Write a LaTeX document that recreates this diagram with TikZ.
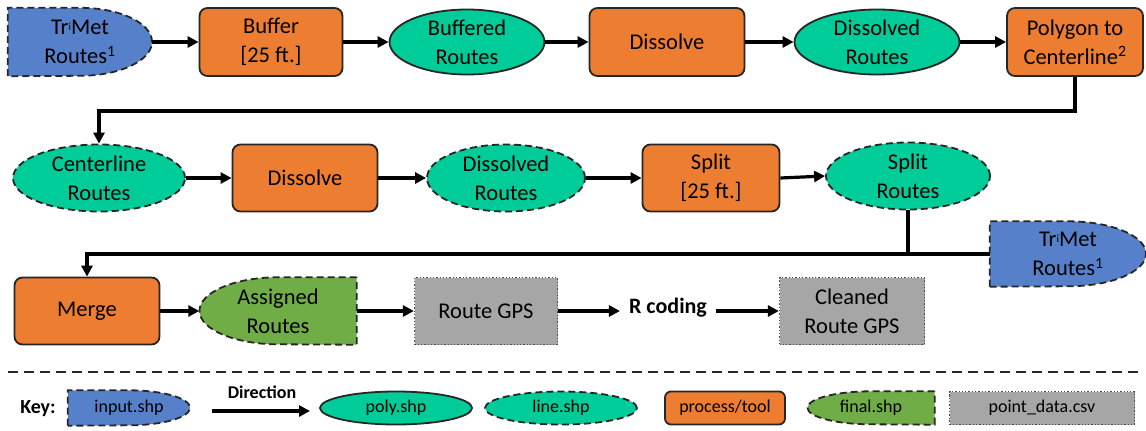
\documentclass[tikz,border=0pt]{standalone}
\usepackage{fontspec}
\setmainfont{Carlito}
\usetikzlibrary{shapes.geometric,arrows.meta,backgrounds,calc}

\definecolor{inblue}{RGB}{86,128,201}
\definecolor{procorange}{RGB}{237,125,49}
\definecolor{polyteal}{RGB}{0,204,153}
\definecolor{finalgreen}{RGB}{112,173,71}
\definecolor{ptgray}{RGB}{166,166,166}

\newcommand\trimet{Tr{\fontsize{11}{11}\selectfont\raisebox{0.7ex}{i}}Met}

\tikzset{
  x=1pt, y=1pt,
  lbl/.style={font=\fontsize{22.5}{29}\selectfont, align=center, text=black, inner sep=0pt},
  keylbl/.style={font=\fontsize{18}{20}\selectfont, align=center, text=black, inner sep=0pt},
  edge/.style={line width=1.8pt, draw=black!85},
  dashedge/.style={line width=1.8pt, draw=black!85, dash pattern=on 7pt off 4pt},
  procbox/.style={rectangle, rounded corners=8pt, fill=procorange, edge},
  polyell/.style={ellipse, fill=polyteal, edge},
  lineell/.style={ellipse, fill=polyteal, dashedge},
  flatbox/.style={rectangle, draw=none},
  ptbox/.style={rectangle, fill=ptgray, draw=black!70, line width=1.3pt, dotted},
  arr/.style={line width=3.2pt, draw=black, -{Triangle[length=11pt,width=11pt]}},
  plain/.style={line width=3.2pt, draw=black},
  sep/.style={line width=2.2pt, draw=black!85, dash pattern=on 10pt off 6pt},
}

\begin{document}
\begin{tikzpicture}
\useasboundingbox (0,0) rectangle (1146,-431);

% ---------- row 1 ----------
\node[flatbox, lbl, minimum width=144, minimum height=68] (tm1) at (80,-42) {\trimet\\Routes\textsuperscript{1}};
\node[procbox, lbl, minimum width=143, minimum height=68] (buf) at (271,-42) {Buffer\\{[}25 ft.{]}};
\node[polyell, lbl, minimum width=155, minimum height=65] (bufr) at (467,-42) {Buffered\\Routes};
\node[procbox, lbl, minimum width=155, minimum height=68] (dis1) at (667,-42) {Dissolve};
\node[polyell, lbl, minimum width=165, minimum height=65] (disr1) at (877,-42) {Dissolved\\Routes};
\node[procbox, lbl, minimum width=136, minimum height=68] (p2c) at (1075,-42) {Polygon to\\Centerline\textsuperscript{2}};

% ---------- row 2 ----------
\node[lineell, lbl, minimum width=172, minimum height=67] (clr) at (99,-178) {Centerline\\Routes};
\node[procbox, lbl, minimum width=145, minimum height=67] (dis2) at (305,-178) {Dissolve};
\node[lineell, lbl, minimum width=158, minimum height=67] (disr2) at (506,-178) {Dissolved\\Routes};
\node[procbox, lbl, minimum width=137, minimum height=67] (split) at (711,-178) {Split\\{[}25 ft.{]}};
\node[lineell, lbl, minimum width=164, minimum height=67] (splr) at (908,-176) {Split\\Routes};
\node[flatbox, lbl, minimum width=156, minimum height=65] (tm2) at (1068,-254) {\trimet\\Routes\textsuperscript{1}};

% ---------- row 3 ----------
\node[procbox, lbl, minimum width=145, minimum height=67] (merge) at (87,-311) {Merge};
\node[flatbox, lbl, minimum width=157, minimum height=67] (asg) at (278,-311) {Assigned\\Routes};
\node[ptbox, lbl, minimum width=143, minimum height=67] (rgps) at (486,-311) {Route GPS};
\node[lbl, font=\fontsize{22}{26}\selectfont\bfseries, inner xsep=9pt] (rcod) at (668,-308) {R coding};
\node[ptbox, lbl, minimum width=145, minimum height=67] (crgps) at (852,-311) {Cleaned\\Route GPS};

% ---------- key ----------
\node[keylbl, font=\fontsize{20}{22}\selectfont\bfseries] (key) at (38,-409) {Key:};
\node[flatbox, keylbl, minimum width=122, minimum height=35] (kin) at (129,-408) {input.shp};
\node[keylbl, font=\fontsize{18}{20}\selectfont\bfseries] (kdir) at (262,-392) {Direction};
\coordinate (kda) at (212,-411);
\coordinate (kdb) at (310,-411);
\node[polyell, keylbl, minimum width=152, minimum height=33] (kpoly) at (396,-408) {poly.shp};
\node[lineell, keylbl, minimum width=152, minimum height=33] (kline) at (561,-408) {line.shp};
\node[procbox, keylbl, rounded corners=6pt, minimum width=120, minimum height=33] (kproc) at (725,-408) {process/tool};
\node[flatbox, keylbl, minimum width=127, minimum height=33] (kfin) at (871,-408) {final.shp};
\node[ptbox, keylbl, minimum width=185, minimum height=33] (kpt) at (1042,-408) {point\_data.csv};

% ---------- shapes drawn behind their labels ----------
\begin{pgfonlayer}{background}
  % input layers: flat left side, rounded right side
  \foreach \n/\rx/\ry in {tm1/72/34, tm2/78/32.5, kin/61/17.5}{
    \path[fill=inblue, dashedge] (\n.south west) -- (\n.north west) -- (\n.north)
      arc[start angle=90, end angle=-90, x radius=\rx, y radius=\ry] -- cycle;
  }
  % final layers: rounded left side, flat right side
  \foreach \n/\rx/\ry in {asg/78.5/33.5, kfin/63.5/16.5}{
    \path[fill=finalgreen, dashedge] (\n.north east) -- (\n.north)
      arc[start angle=90, end angle=270, x radius=\rx, y radius=\ry] -- (\n.south east) -- cycle;
  }
  % inner dotted rules of the point-data boxes
  \foreach \n/\d in {rgps/8, crgps/8, kpt/5}{
    \draw[black!70, line width=1.3pt, dotted] ($(\n.north west)+(0,-\d)$) -- ($(\n.north east)+(0,-\d)$);
    \draw[black!70, line width=1.3pt, dotted] ($(\n.south west)+(0,\d)$) -- ($(\n.south east)+(0,\d)$);
  }
\end{pgfonlayer}

% ---------- connectors ----------
\draw[arr] (tm1.east) -- (buf.west);
\draw[arr] (buf.east) -- (bufr.west);
\draw[arr] (bufr.east) -- (dis1.west);
\draw[arr] (dis1.east) -- (disr1.west);
\draw[arr] (disr1.east) -- (p2c.west);
\draw[arr] (p2c.south) -- ++(0,-34) -| (clr.north);

\draw[arr] (clr.east) -- (dis2.west);
\draw[arr] (dis2.east) -- (disr2.west);
\draw[arr] (disr2.east) -- (split.west);
\draw[arr] (split.east) -- (splr.west);
\draw[plain] (splr.south) -- (splr.south |- tm2.west);
\draw[arr] (tm2.west) -| (merge.north);

\draw[arr] (merge.east) -- (asg.west);
\draw[arr] (asg.east) -- (rgps.west);
\draw[arr] (rgps.east) -- (rgps.east -| rcod.west);
\draw[arr] (rcod.east |- crgps.west) -- (crgps.west);

% ---------- separator and legend arrow ----------
\coordinate (sepa) at (8,-372);
\coordinate (sepb) at (1143,-372);
\draw[sep] (sepa) -- (sepb);
\draw[arr] (kda) -- (kdb);
\end{tikzpicture}
\end{document}
